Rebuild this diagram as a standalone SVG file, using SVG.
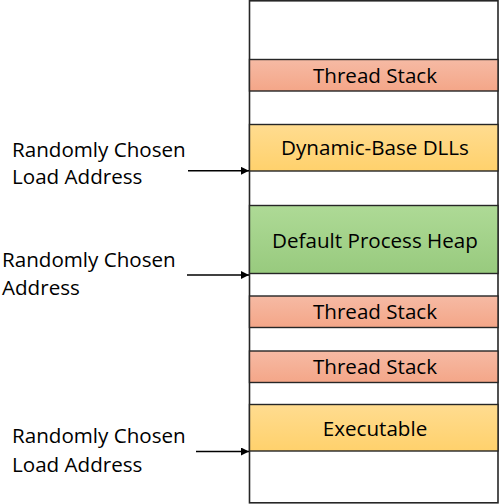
<svg xmlns="http://www.w3.org/2000/svg" width="500" height="504" viewBox="0 0 500 504">
  <style>
    .lbl { font-family: "Open Sans", "Liberation Sans", sans-serif; font-size: 20.6px; fill: #000; }
    .blk { stroke: #262626; stroke-width: 1.4; }
    .ctr { text-anchor: middle; }
    .conn { stroke: #000; stroke-width: 1.6; fill: none; }
  </style>
  <defs>
    <linearGradient id="gStack" x1="0" y1="0" x2="0" y2="1">
      <stop offset="0" stop-color="#F6BAA4"/>
      <stop offset="1" stop-color="#F4A688"/>
    </linearGradient>
    <linearGradient id="gGold" x1="0" y1="0" x2="0" y2="1">
      <stop offset="0" stop-color="#FFDC90"/>
      <stop offset="1" stop-color="#FFD16C"/>
    </linearGradient>
    <linearGradient id="gGreen" x1="0" y1="0" x2="0" y2="1">
      <stop offset="0" stop-color="#AEDA96"/>
      <stop offset="1" stop-color="#98CA7E"/>
    </linearGradient>
    <marker id="arr" viewBox="0 0 10 10" refX="10" refY="5" markerWidth="5" markerHeight="5" orient="auto" markerUnits="strokeWidth">
      <path d="M0,0 L10,5 L0,10 z" fill="#000"/>
    </marker>
  </defs>

  <g id="memory">
    <rect x="249.5" y="0.8" width="248.5" height="502" fill="#fff" stroke="#262626" stroke-width="1.6"/>
  </g>

  <g id="thread-stack-1">
    <rect class="blk" x="249.5" y="59.5" width="248.5" height="31.5" fill="url(#gStack)"/>
    <text class="lbl ctr" x="375" y="82.5">Thread Stack</text>
  </g>
  <g id="dynamic-base-dlls">
    <rect class="blk" x="249.5" y="124.5" width="248.5" height="46.5" fill="url(#gGold)"/>
    <text class="lbl ctr" x="375" y="155">Dynamic-Base DLLs</text>
  </g>
  <g id="default-process-heap">
    <rect class="blk" x="249.5" y="205.5" width="248.5" height="68" fill="url(#gGreen)"/>
    <text class="lbl ctr" x="375" y="248">Default Process Heap</text>
  </g>
  <g id="thread-stack-2">
    <rect class="blk" x="249.5" y="296" width="248.5" height="31.5" fill="url(#gStack)"/>
    <text class="lbl ctr" x="375" y="319">Thread Stack</text>
  </g>
  <g id="thread-stack-3">
    <rect class="blk" x="249.5" y="351" width="248.5" height="31.5" fill="url(#gStack)"/>
    <text class="lbl ctr" x="375" y="374">Thread Stack</text>
  </g>
  <g id="executable">
    <rect class="blk" x="249.5" y="404.5" width="248.5" height="46.5" fill="url(#gGold)"/>
    <text class="lbl ctr" x="375" y="435.5">Executable</text>
  </g>

  <g id="label-dlls">
    <text class="lbl" x="12" y="157">Randomly Chosen</text>
    <text class="lbl" x="12" y="183.5">Load Address</text>
  </g>
  <g id="label-heap">
    <text class="lbl" x="2" y="267">Randomly Chosen</text>
    <text class="lbl" x="2" y="295">Address</text>
  </g>
  <g id="label-exe">
    <text class="lbl" x="12" y="443">Randomly Chosen</text>
    <text class="lbl" x="12" y="471.5">Load Address</text>
  </g>

  <g id="connectors">
    <line class="conn" x1="188" y1="170.8" x2="249" y2="170.8" marker-end="url(#arr)"/>
    <line class="conn" x1="187" y1="275" x2="249" y2="275" marker-end="url(#arr)"/>
    <line class="conn" x1="196" y1="451.5" x2="249" y2="451.5" marker-end="url(#arr)"/>
  </g>
</svg>
